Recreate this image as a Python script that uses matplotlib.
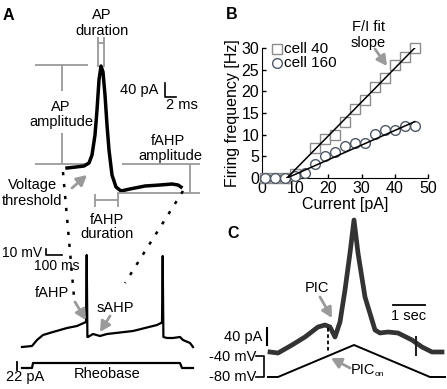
import numpy as np
import matplotlib.pyplot as plt

plt.rcParams['font.family'] = ['Liberation Sans', 'DejaVu Sans']

# ---- panel B : F/I relation ----
cell40_i = [1, 4, 7, 10, 16, 19, 22, 25, 28, 31, 34, 37, 40, 43, 46]
cell40_f = [0, 0, 0, 1, 7, 9, 10, 13, 16, 18, 21, 23, 26, 28, 30]
cell160_i = [1, 4, 7, 10, 13, 16, 19, 22, 25, 28, 31, 34, 37, 40, 43, 46]
cell160_f = [0, 0, 0, 0.4, 1.2, 3.2, 5.1, 6.1, 7.3, 8, 8, 10.1, 11.1, 11, 12.1, 12.1]
fit40_i, fit40_f = [7.5, 46], [0, 30]
fit160_i, fit160_f = [7.5, 46], [0, 13]

# ---- panel A / C traces (sketch coordinates) ----
ap_x = [67, 76, 84, 89, 92, 95, 97, 99, 101, 103, 105, 107, 109, 112, 116, 121,
        130, 145, 160, 172, 178, 181]
ap_y = [168, 167, 166, 163, 155, 135, 110, 80, 66, 72, 95, 125, 150, 175, 187, 191,
        189, 186, 185, 184, 185, 187]

rheo_x = [22, 32, 37, 43, 53, 67, 77, 86, 86.7, 87.4, 88, 93, 100, 107, 133, 157,
          161, 162, 162.7, 163.4, 167, 173, 180, 183, 190, 193]
rheo_y = [347, 346, 340, 335, 332, 328, 326, 322, 255, 337, 337, 334, 336, 334, 331,
          325, 323, 323, 256, 337, 338, 338, 337, 340, 343, 347]
step_x = [22, 32, 33, 180, 182, 193]
step_y = [368, 368, 363, 363, 368, 368]

ramp_x = [268, 278, 354, 430, 445]
ramp_y = [377, 377, 345, 377, 377]
pic_x = [270, 278, 292, 305, 318, 325, 330, 335, 340, 345, 350, 354, 358, 365, 375,
         380, 388, 398, 412, 422, 432, 442]
pic_y = [352, 353, 345, 337, 327, 325, 327, 337, 322, 290, 253, 220, 253, 297, 330,
         333, 332, 333, 340, 347, 352, 352]

GRAY = '#9a9a9a'
SQ_C, CI_C = '#8c8c8c', '#4f5866'
fig = plt.figure(figsize=(4.47, 3.89), dpi=100)

# panel B axes
ax = fig.add_axes([262 / 447, 1 - 178 / 389, 166 / 447, 130 / 389])
ax.plot(fit40_i, fit40_f, color='black', lw=1.1, zorder=4)
ax.plot(fit160_i, fit160_f, color='black', lw=1.1, zorder=4)
ax.plot(cell40_i, cell40_f, 's', ms=7, mfc='white', mec=SQ_C, mew=1,
        clip_on=False, zorder=3)
ax.plot(cell160_i, cell160_f, 'o', ms=7, mfc='white', mec=CI_C, mew=1,
        clip_on=False, zorder=3)
ax.set_xlim(0, 50)
ax.set_ylim(0, 30)
ax.set_xticks(range(0, 51, 10))
ax.set_yticks(range(0, 31, 5))
ax.tick_params(direction='in', length=3, width=1, labelsize=11.5, pad=2)
for s in ['top', 'right']:
    ax.spines[s].set_visible(False)
ax.set_xlabel('Current [pA]', fontsize=11.5, labelpad=1)
ax.set_ylabel('Firing frequency [Hz]', fontsize=11.5, labelpad=1)
ax.patch.set_alpha(0)

# legend drawn by hand (tight rows like the original)
for yy, mk, mc, lab in [(0.995, 's', SQ_C, 'cell 40'), (0.885, 'o', CI_C, 'cell 160')]:
    ax.plot([0.09], [yy], mk, ms=7, mfc='white', mec=mc, mew=1,
            transform=ax.transAxes, clip_on=False)
    ax.text(0.132, yy, lab, transform=ax.transAxes, fontsize=11, va='center')

# overlay in pixel coordinates for the sketches
ov = fig.add_axes([0, 0, 1, 1])
ov.set_xlim(0, 447)
ov.set_ylim(389, 0)
ov.axis('off')
ov.patch.set_alpha(0)

def txt(x, y, s, ha='center', size=10.5, **kw):
    ov.text(x, y, s, ha=ha, va='center', fontsize=size, **kw)

def gline(xs, ys, color=GRAY, lw=1.3, **kw):
    ov.plot(xs, ys, color=color, lw=lw, solid_capstyle='butt', **kw)

def arrow(tail, head):
    ov.annotate('', xy=head, xytext=tail,
                arrowprops=dict(arrowstyle='-|>,head_length=0.6,head_width=0.32',
                                color=GRAY, lw=2.0, shrinkA=0, shrinkB=0))

# panel letters
txt(3, 15, 'A', ha='left', size=11.5, weight='bold')
txt(226, 14, 'B', ha='left', size=11.5, weight='bold')
txt(227, 233, 'C', ha='left', size=11.5, weight='bold')

# ---- A top: AP waveform ----
txt(102, 15, 'AP')
txt(102, 31, 'duration')
gline([98, 98], [37, 67])
gline([104, 104], [37, 67])
gline([98, 104], [43, 43])

gline([35, 88], [65, 65])
gline([62, 62], [65, 91])
txt(61, 107, 'AP')
txt(61, 122, 'amplitude')
gline([62, 62], [133, 164])
gline([35, 88], [164, 164])

ov.plot(ap_x, ap_y, color='black', lw=2.5, solid_joinstyle='round')

txt(158, 90, '40 pA', ha='right')
ov.plot([165, 165, 176], [83, 97, 97], color='black', lw=1.2)
txt(166, 105, '2 ms', ha='left')

txt(168, 141, 'fAHP')
txt(170, 156, 'amplitude')
gline([122, 200], [164, 164])
gline([190, 190], [164, 193])
gline([117, 200], [193, 193])

gline([95, 118], [200, 200])
gline([95, 95], [194, 207])
gline([118, 118], [193, 207])
txt(107, 220, 'fAHP')
txt(107, 234, 'duration')

txt(32, 185, 'Voltage')
txt(32, 201, 'threshold')
arrow((72, 188), (87, 175))

ov.plot([63, 74], [172, 297], color='black', lw=1.8, ls=(0, (1.3, 3.5)))
ov.plot([183, 125], [191, 283], color='black', lw=1.8, ls=(0, (1.3, 3.5)))

# ---- A bottom: rheobase trace ----
txt(42, 253, '10 mV', ha='right', size=10)
ov.plot([46, 46, 62], [249, 255, 255], color='black', lw=1.2)
txt(57, 266, '100 ms', size=10)
ov.plot(rheo_x, rheo_y, color='black', lw=1.6, solid_joinstyle='round')
txt(52, 293, 'fAHP')
arrow((75, 302), (86, 320))
txt(115, 308, 'sAHP')
arrow((110, 316), (100, 332))
ov.plot(step_x, step_y, color='black', lw=1.6)
ov.plot([17, 17], [362, 370], color='black', lw=1.3)
txt(25, 377, '22 pA')
txt(107, 374, 'Rheobase')

# ---- C: PIC ----
ov.plot(pic_x, pic_y, color='#333333', lw=3.4, solid_joinstyle='round')
ov.plot([416, 416], [337, 355], color='#222222', lw=1.5)
ov.plot(ramp_x, ramp_y, color='black', lw=1.4)
ov.plot([328, 328], [328, 353], color='black', lw=1.3, ls=(0, (2, 1.5)))
txt(317, 288, 'PIC')
arrow((320, 297), (332, 318))
txt(351, 370, 'PIC', ha='left')
txt(375, 374, 'on', ha='left', size=6)
arrow((350, 368), (331, 358))
ov.plot([393, 425], [305, 305], color='black', lw=1.3)
txt(409, 316, '1 sec')
txt(262, 337, '40 pA', ha='right')
ov.plot([267, 267], [328, 345], color='black', lw=1.5)
txt(256, 357, '-40 mV', ha='right')
txt(256, 377, '-80 mV', ha='right')
ov.plot([256, 264, 264, 256], [356, 356, 377, 377], color='black', lw=1.2)

# ---- B annotation ----
txt(368, 27, 'F/I fit')
txt(368, 43, 'slope')
arrow((375, 49), (387, 66))

fig.savefig('out.png', dpi=100)
